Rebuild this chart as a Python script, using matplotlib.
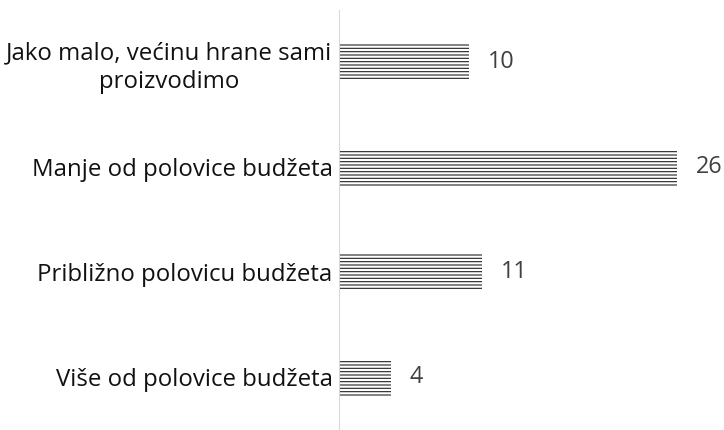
import matplotlib
matplotlib.use("Agg")
import matplotlib.pyplot as plt

# Odgovori i broj ispitanika
kategorije = ["Jako malo, većinu hrane sami\nproizvodimo",
              "Manje od polovice budžeta",
              "Približno polovicu budžeta",
              "Više od polovice budžeta"]
vrijednosti = [10, 26, 11, 4]

plt.rcParams['font.family'] = ['Open Sans', 'DejaVu Sans']
plt.rcParams['hatch.linewidth'] = 0.8

fig = plt.figure(figsize=(7.24, 4.30), dpi=100)
ax = fig.add_axes([0.468, 0.0, 0.532, 0.977])

poz = list(range(len(kategorije)))
ax.barh(poz, vrijednosti, height=0.36, color="white", edgecolor="#222222",
        linewidth=0, hatch="-----")

for p, v in zip(poz, vrijednosti):
    ax.annotate(str(v), (v, p), xytext=(13.5, 0), textcoords="offset points",
                va="center", ha="left", fontsize=16.8, color="#404040")

ax.set_yticks(poz)
ax.set_yticklabels(kategorije, fontsize=17.3, color="#111111",
                   multialignment="center", linespacing=1.25)
ax.tick_params(axis="y", length=0, pad=4.5)
ax.set_xticks([])
ax.set_xlim(0, 29.6)
ax.set_ylim(3.5, -0.5)

for s in ["top", "right", "bottom"]:
    ax.spines[s].set_visible(False)
ax.spines["left"].set_color("#d9d9d9")

fig.savefig("out.png", dpi=100)
